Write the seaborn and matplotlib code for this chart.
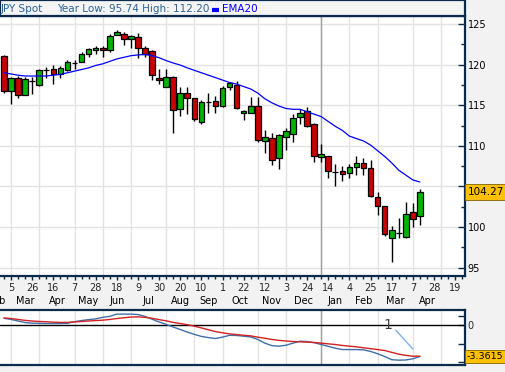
import numpy as np
import pandas as pd
import matplotlib
matplotlib.use("Agg")
import matplotlib.pyplot as plt
import matplotlib.transforms as mtransforms
from matplotlib.patches import Rectangle
from matplotlib.lines import Line2D
import seaborn as sns

# -----------------------------
# Data (weekly USD/JPY)
# -----------------------------
first_week = "2007-02-26"

opens = [121.1, 116.8, 118.4, 116.3, 118.0, 117.5, 119.3, 119.5, 118.8, 119.3,
         120.2, 120.3, 121.3, 121.8, 122.1, 121.8, 123.6, 123.8, 123.15, 123.4,
         122.0, 121.7, 118.35, 117.25, 118.5, 114.5, 116.5, 115.85, 112.9, 115.4,
         115.5, 114.9, 117.2, 117.5, 114.0, 114.1, 114.9, 110.6, 110.95, 108.45,
         111.05, 111.5, 113.5, 114.3, 112.7, 108.6, 108.75, 106.8, 106.9, 106.6,
         107.35, 107.85, 107.3, 103.65, 102.55, 98.6, 99.3, 98.8, 101.85, 101.3]
highs = [121.2, 118.5, 118.6, 118.5, 118.5, 119.5, 119.7, 120.0, 119.8, 120.6,
         120.6, 121.6, 122.0, 122.3, 122.3, 123.8, 124.3, 124.05, 123.7, 123.9,
         122.3, 121.8, 119.5, 119.5, 118.6, 117.3, 117.3, 115.9, 115.6, 116.5,
         116.1, 117.4, 117.9, 118.0, 114.4, 116.0, 116.05, 112.0, 111.6, 111.4,
         112.15, 113.9, 114.5, 114.8, 112.8, 110.2, 108.8, 107.75, 107.5, 107.75,
         108.8, 108.45, 108.2, 104.3, 102.6, 100.1, 101.1, 103.1, 103.0, 104.65]
lows = [116.5, 115.2, 115.85, 116.2, 116.4, 117.4, 118.3, 117.6, 118.3, 119.25,
        119.5, 120.3, 120.9, 121.3, 120.9, 121.6, 123.6, 122.4, 122.0, 120.85,
        121.0, 118.1, 117.65, 117.2, 111.6, 113.7, 113.9, 113.1, 112.65, 114.0,
        114.1, 114.8, 116.9, 114.5, 113.2, 114.0, 110.5, 109.15, 107.6, 107.2,
        109.5, 110.5, 112.7, 112.3, 108.05, 108.05, 106.0, 105.0, 105.7, 106.0,
        106.4, 106.4, 103.7, 101.5, 98.9, 95.74, 98.6, 98.7, 99.95, 100.25]
closes = [116.8, 118.4, 116.3, 118.2, 117.95, 119.3, 119.3, 118.8, 119.6, 120.3,
          120.2, 121.3, 121.9, 122.1, 121.8, 123.5, 124.05, 123.2, 123.5, 122.0,
          121.3, 118.7, 118.05, 118.5, 114.4, 116.5, 115.85, 113.35, 115.35, 115.4,
          114.9, 117.1, 117.7, 114.6, 114.3, 114.9, 110.7, 111.1, 108.3, 111.3,
          111.8, 113.4, 114.1, 112.4, 108.75, 108.95, 106.9, 106.8, 106.5, 107.35,
          107.85, 107.25, 103.8, 102.6, 99.1, 99.6, 99.3, 101.55, 100.95, 104.27]
ema20 = [119.0, 118.85, 118.7, 118.6, 118.6, 118.6, 118.6, 118.7, 118.8, 119.0,
         119.2, 119.4, 119.6, 119.9, 120.1, 120.4, 120.7, 120.9, 121.1, 121.2,
         121.25, 121.1, 120.85, 120.5, 120.2, 119.95, 119.6, 119.3, 119.0, 118.7,
         118.4, 118.1, 117.8, 117.6, 117.3, 117.0, 116.5, 115.8, 115.3, 114.9,
         114.6, 114.5, 114.5, 114.2, 113.9, 113.6, 113.0, 112.4, 111.9, 111.2,
         110.9, 110.6, 110.1, 109.4, 108.7, 107.9, 107.0, 106.4, 105.8, 105.55]
macd = [0.75, 0.62, 0.45, 0.28, 0.22, 0.2, 0.18, 0.18, 0.18, 0.2,
        0.38, 0.5, 0.6, 0.68, 0.85, 0.95, 1.2, 1.2, 1.2, 1.15,
        0.95, 0.65, 0.35, 0.08, -0.2, -0.47, -0.75, -1.0, -1.22, -1.35,
        -1.45, -1.3, -1.1, -1.12, -1.2, -1.28, -1.55, -1.95, -2.22, -2.28,
        -2.18, -1.95, -1.74, -1.78, -1.9, -2.1, -2.3, -2.5, -2.65, -2.65,
        -2.65, -2.68, -2.85, -3.1, -3.4, -3.75, -3.8, -3.78, -3.65, -3.4]
signal = [0.78, 0.72, 0.62, 0.52, 0.45, 0.4, 0.37, 0.33, 0.3, 0.3,
          0.35, 0.4, 0.45, 0.5, 0.54, 0.62, 0.72, 0.8, 0.88, 0.9,
          0.85, 0.75, 0.6, 0.47, 0.3, 0.18, 0.05, -0.11, -0.3, -0.5,
          -0.7, -0.83, -0.95, -1.02, -1.1, -1.16, -1.3, -1.42, -1.55, -1.65,
          -1.72, -1.78, -1.81, -1.84, -1.88, -1.95, -2.03, -2.1, -2.2, -2.28,
          -2.35, -2.46, -2.55, -2.65, -2.75, -2.95, -3.15, -3.28, -3.37, -3.3615]

header_title = "JPY Spot"
header_stats = "Year Low: 95.74 High: 112.20"
last_price = "104.27"
last_macd = "-3.3615"

# -----------------------------
# Style
# -----------------------------
sns.set_theme(style="white")
plt.rcParams["font.family"] = ["DejaVu Sans"]

NAVY = "#0c2a4a"
GRID = "#e3e3e3"
UP = "#00b400"
DOWN = "#c80000"

o = np.array(opens)
c = np.array(closes)
x = np.arange(len(o))

# weekly calendar for the axis (few weeks before/after the data)
weeks = np.arange(-4, 67)
week_dates = pd.Timestamp(first_week) + pd.to_timedelta(weeks * 7, unit="D")
month_start = [w for k, w in enumerate(weeks[1:], 1)
               if week_dates[k].month != week_dates[k - 1].month]
month_names = [week_dates[list(weeks).index(w)].strftime("%b") for w in month_start]
day_ticks = weeks[(weeks - 1) % 3 == 0]
day_ticks = day_ticks[(day_ticks >= 1) & (day_ticks <= 64)]
day_labels = [str(week_dates[list(weeks).index(w)].day) for w in day_ticks]

fig = plt.figure(figsize=(5.05, 3.72), dpi=100)
fig.patch.set_facecolor("#f2f2f2")

ax = fig.add_axes([0, 1 - 276 / 372, 465 / 505, 260 / 372])
ax2 = fig.add_axes([0, 1 - 364.5 / 372, 465 / 505, 55 / 372])
xlim = (-0.57, 65.4)

# -----------------------------
# Price panel
# -----------------------------
ax.set_facecolor("white")
for m in month_start:
    ax.axvline(m, color=GRID, lw=1, zorder=0)
    ax2.axvline(m, color=GRID, lw=1, zorder=0)
for v in range(95, 130, 5):
    ax.axhline(v, color=GRID, lw=1, zorder=0)
ax.axvline(45, color="#a0a0a0", lw=1, zorder=0.5)
ax2.axvline(45, color="#a0a0a0", lw=1, zorder=0.5)

ax.vlines(x, lows, highs, color="black", lw=1, zorder=2)
body_col = [UP if cc > oo else (DOWN if cc < oo else "black") for oo, cc in zip(o, c)]
ax.bar(x, np.abs(c - o), bottom=np.minimum(o, c), width=0.8, color=body_col,
       edgecolor="black", linewidth=0.9, zorder=3)
sns.lineplot(x=x, y=ema20, ax=ax, color="#0000ff", lw=0.9, zorder=4)

ax.yaxis.tick_right()
ax.set_yticks(range(95, 130, 5), ["95", "100", "", "110", "115", "120", "125"])
ax.set_yticks(np.arange(97.5, 125, 5), minor=True)
ax.tick_params(axis="y", which="both", direction="in", length=5, width=1,
               color=NAVY, labelsize=7, pad=2, labelcolor="black", right=True)
ax.tick_params(axis="y", which="minor", length=3)
ax.set_xticks(day_ticks, day_labels)
ax.set_xticks(weeks, minor=True)
ax.tick_params(axis="x", which="major", direction="out", length=3, width=1,
               color=NAVY, labelsize=7, pad=2, bottom=True)
ax.tick_params(axis="x", which="minor", direction="out", length=2, width=1,
               color=NAVY, bottom=True)
ax.set_xlim(*xlim)
ax.set_ylim(93.97, 125.99)
trans = mtransforms.blended_transform_factory(ax.transData, ax.transAxes)
for k, name in enumerate(month_names[:-2]):
    ax.text((month_start[k] + month_start[k + 1]) / 2, -0.098, name, transform=trans,
            ha="center", va="center", fontsize=7, color="black", clip_on=False)
ax.spines["left"].set_visible(False)
for side in ["top", "right", "bottom"]:
    ax.spines[side].set_color(NAVY)
    ax.spines[side].set_linewidth(1.6)
ax.set_xlabel("")
ax.set_ylabel("")

ytrans = mtransforms.blended_transform_factory(ax.transAxes, ax.transData)
ax.text(1.006, closes[-1], last_price, transform=ytrans, ha="left", va="center",
        fontsize=7.5, color="black", zorder=10,
        bbox=dict(boxstyle="square,pad=0.3", facecolor="#ffc000", edgecolor="#806000", lw=0.6))

# -----------------------------
# Indicator panel
# -----------------------------
ax2.set_facecolor("white")
ax2.axhline(0, color="black", lw=1, zorder=1)
sns.lineplot(x=x, y=macd, ax=ax2, color="#3f6fa8", lw=1, zorder=3)
sns.lineplot(x=x, y=signal, ax=ax2, color="#d42020", lw=1, zorder=4)
ax2.plot([55.6, 58.0], [-0.55, -2.6], color="#7fb2ea", lw=1, zorder=5)
ax2.text(54.5, 0, "1", fontsize=10, color="#404040", ha="center", va="center", zorder=5)
ax2.set_xticks([])
ax2.yaxis.tick_right()
ax2.set_yticks([1, 0, -2, -4], ["", "0", "", ""])
ax2.tick_params(axis="y", direction="in", length=5, width=1, color=NAVY,
                labelsize=7, pad=2, right=True)
ax2.set_xlim(*xlim)
ax2.set_ylim(-4.27, 1.7)
ax2.spines["left"].set_visible(False)
for side in ["top", "right", "bottom"]:
    ax2.spines[side].set_color(NAVY)
    ax2.spines[side].set_linewidth(1.6)
ax2.set_xlabel("")
ax2.set_ylabel("")
ytrans2 = mtransforms.blended_transform_factory(ax2.transAxes, ax2.transData)
ax2.text(1.004, signal[-1], last_macd, transform=ytrans2, ha="left", va="center",
         fontsize=6.8, color="black", zorder=10,
         bbox=dict(boxstyle="square,pad=0.2", facecolor="#ffc000", edgecolor="#806000", lw=0.6))

# -----------------------------
# Header bar
# -----------------------------
fig.add_artist(Rectangle((0, 1 - 16 / 372), 465 / 505, 16 / 372, transform=fig.transFigure,
                         facecolor="#f4f4f4", edgecolor=NAVY, lw=1.6, zorder=5))
fig.text(1 / 505, 1 - 8.5 / 372, header_title, fontsize=7.5, color="#2e6396",
         va="center", ha="left", zorder=6)
fig.text(57 / 505, 1 - 8.5 / 372, header_stats, fontsize=7.5, color="#2e6396",
         va="center", ha="left", zorder=6)
fig.add_artist(Line2D([212 / 505, 219 / 505], [1 - 9.7 / 372] * 2, transform=fig.transFigure,
                      color="#0000ff", lw=3, solid_capstyle="butt", zorder=6))
fig.text(222 / 505, 1 - 8.5 / 372, "EMA20", fontsize=7.5, color="#0000ff",
         va="center", ha="left", zorder=6)

fig.savefig("out.png", dpi=100, facecolor=fig.get_facecolor())
